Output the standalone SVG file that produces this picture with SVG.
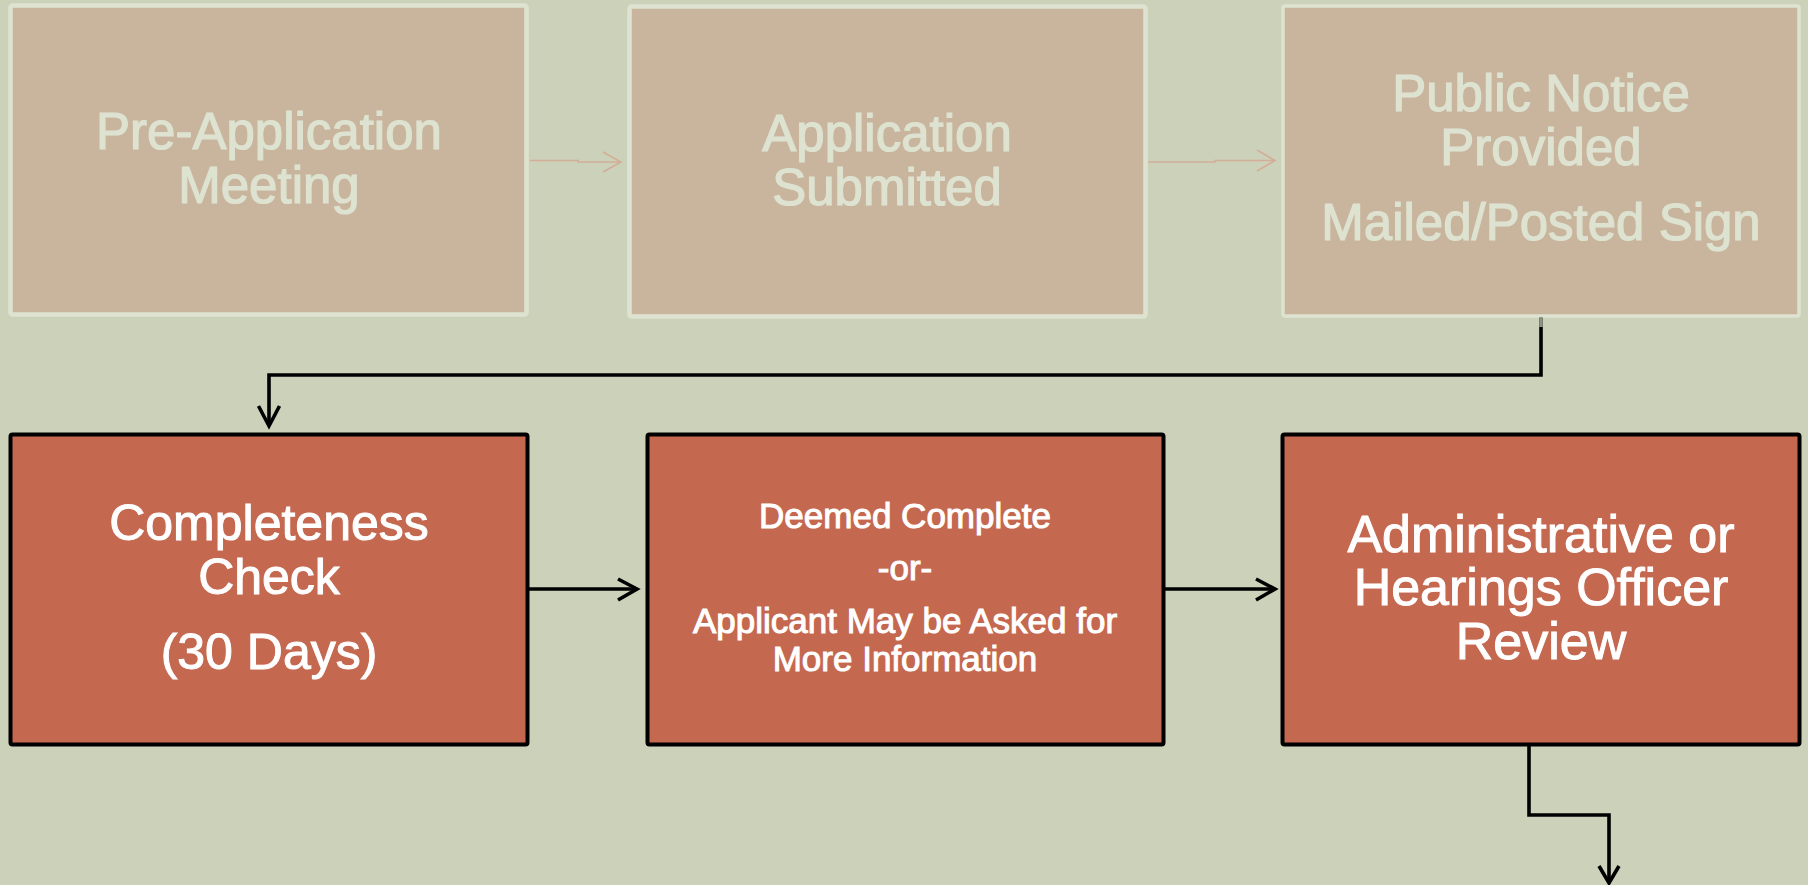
<svg xmlns="http://www.w3.org/2000/svg" width="1808" height="885" viewBox="0 0 1808 885">
<defs>
<style>
.faded rect{fill:#c9b59d;stroke:#dde3d0;stroke-width:4.5}
.faded text{fill:#dde3d0;stroke:#dde3d0;stroke-width:1.2;font-family:"Liberation Sans",Arial,sans-serif;font-size:51px;text-anchor:middle}
.active rect{fill:#c56850;stroke:#000;stroke-width:4}
.active text{fill:#fff;stroke:#fff;stroke-width:1;font-family:"Liberation Sans",Arial,sans-serif;text-anchor:middle}
.fl{fill:none;stroke:#d3ae98;stroke-width:1.6}
.bl{fill:none;stroke:#000;stroke-width:3.6}
</style>
</defs>
<rect x="0" y="0" width="1808" height="885" fill="#ccd1b9"/>

<g id="pre-application" class="faded">
<rect x="10.5" y="5.5" width="516" height="309" rx="2"/>
<text x="269" y="149">Pre-Application</text>
<text x="269" y="203">Meeting</text>
</g>

<g id="application-submitted" class="faded">
<rect x="629.5" y="6.5" width="516" height="310" rx="2"/>
<text x="887" y="151">Application</text>
<text x="887" y="205">Submitted</text>
</g>

<g id="public-notice" class="faded">
<rect x="1283" y="6" width="516" height="310" rx="2" style="stroke-width:3.5"/>
<text x="1541" y="111">Public Notice</text>
<text x="1541" y="165">Provided</text>
<text x="1541" y="240">Mailed/Posted Sign</text>
</g>

<g id="completeness-check" class="active">
<rect x="10.5" y="434.5" width="517" height="310" rx="2"/>
<text x="269" y="540" font-size="50">Completeness</text>
<text x="269" y="594" font-size="50">Check</text>
<text x="269" y="669" font-size="50">(30 Days)</text>
</g>

<g id="deemed-complete" class="active">
<rect x="647.5" y="434.5" width="516" height="310" rx="2"/>
<text x="905" y="528" font-size="35">Deemed Complete</text>
<text x="905" y="580" font-size="35">-or-</text>
<text x="905" y="633" font-size="35">Applicant May be Asked for</text>
<text x="905" y="671" font-size="35">More Information</text>
</g>

<g id="review" class="active">
<rect x="1282.5" y="434.5" width="517" height="310" rx="2"/>
<text x="1541" y="552" font-size="52">Administrative or</text>
<text x="1541" y="605" font-size="52">Hearings Officer</text>
<text x="1541" y="659" font-size="52">Review</text>
</g>

<g id="connectors">
<path class="fl" d="M530 160.5 H578 V162 H621"/>
<path class="fl" d="M603 152 L621 162 L603 172"/>
<path class="fl" d="M1148 162 H1215 V160.5 H1275"/>
<path class="fl" d="M1257 150 L1275 160.5 L1257 171"/>

<path class="bl" d="M1541 318 V375 H269 V426"/>
<line x1="1541" y1="317" x2="1541" y2="327" stroke="#8c9484" stroke-width="3.6"/>
<path class="bl" d="M258.5 406 L269 426 L279.5 406"/>

<path class="bl" d="M529 589 H636"/>
<path class="bl" d="M618 579 L637 589 L618 600"/>

<path class="bl" d="M1165 589 H1273"/>
<path class="bl" d="M1256 579 L1275 589 L1256 600"/>

<path class="bl" d="M1529 746 V815 H1609 V881"/>
<path class="bl" d="M1599 866 L1609 883 L1619 866"/>
</g>
</svg>
